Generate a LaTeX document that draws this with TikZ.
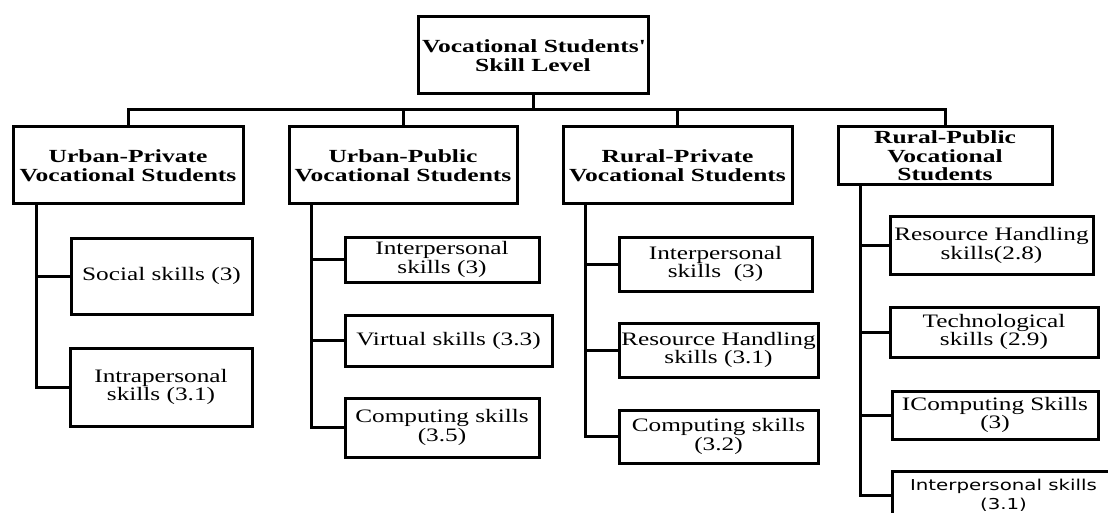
\documentclass[tikz,border=0pt]{standalone}
\usepackage{fontspec}
\setmainfont{Liberation Serif}[FakeStretch=1.33]
\newfontfamily\hdfont{Liberation Serif}[UprightFont={* Bold},FakeStretch=1.38]
\newfontfamily\sansfnt{DejaVu Sans}[FakeStretch=1.32]
\begin{document}
\begin{tikzpicture}[x=1pt,y=-1pt,
  box/.style={draw=black,line width=3pt,fill=white,rectangle,inner sep=0pt,outer sep=0pt,align=center,
    font=\fontsize{19}{18.5}\selectfont},
  hdr/.style={box,font=\hdfont\fontsize{18.5}{18.5}\selectfont},
  conn/.style={draw=black,line width=3pt}]
\useasboundingbox (0,0) rectangle (1108,513);
\fill[white] (0,0) rectangle (1108,513);
% top
\node[hdr,minimum width=230pt,minimum height=77pt] (top) at (533,55.5) {Vocational Students\textquotesingle\\Skill Level};
% level 2
\node[hdr,minimum width=230pt,minimum height=77pt] (up) at (128,165.5) {Urban-Private\\Vocational Students};
\node[hdr,minimum width=228pt,minimum height=77pt] (ub) at (403,165.5) {Urban-Public\\Vocational Students};
\node[hdr,minimum width=229pt,minimum height=77pt] (rp) at (677.5,165.5) {Rural-Private\\Vocational Students};
\node[hdr,minimum width=214pt,minimum height=58pt] (rb) at (945,156) {Rural-Public\\Vocational\\Students};
% leaves urban-private
\node[box,minimum width=181pt,minimum height=76pt] (soc) at (161.5,276) {Social skills (3)};
\node[box,minimum width=182pt,minimum height=78pt] (intra) at (161,387) {Intrapersonal\\skills (3.1)};
% leaves urban-public
\node[box,minimum width=194pt,minimum height=45pt] (ui) at (442,259.5) {Interpersonal\\skills (3)};
\node[box,minimum width=207pt,minimum height=51pt] (uv) at (448.5,340.5) {Virtual skills (3.3)};
\node[box,minimum width=194pt,minimum height=59pt] (uc) at (442,427.5) {Computing skills\\(3.5)};
% leaves rural-private
\node[box,minimum width=193pt,minimum height=54pt] (ri) at (715.5,264) {Interpersonal\\skills\ \ (3)};
\node[box,minimum width=199pt,minimum height=54pt] (rr) at (718.5,350) {Resource Handling\\skills (3.1)};
\node[box,minimum width=199pt,minimum height=53pt] (rc) at (718.5,436.5) {Computing skills\\(3.2)};
% leaves rural-public
\node[box,minimum width=203pt,minimum height=57pt] (pr) at (991.5,245.5) {Resource Handling\\skills(2.8)};
\node[box,minimum width=208pt,minimum height=50pt] (pt) at (994,332) {Technological\\skills (2.9)};
\node[box,minimum width=206pt,minimum height=48pt] (pc) at (995,415) {IComputing Skills\\(3)};
\node[box,minimum width=223pt,minimum height=48pt,font=\sansfnt\fontsize{15}{19}\selectfont] (pi) at (1003.5,495) {Interpersonal skills\\(3.1)};
% top connectors
\draw[conn] (top.south) -- ++(0,16) coordinate (bus);
\draw[conn] (up.north) |- (bus) -| (rb.north);
\draw[conn] (ub.north) -- (ub.north |- bus);
\draw[conn] (rp.north) -- (rp.north |- bus);
% stems
\coordinate (s1) at ([xshift=23pt]up.south west);
\draw[conn] (s1) |- (intra.west);
\draw[conn] (soc.west) -- (soc.west -| s1);
\coordinate (s2) at ([xshift=22pt]ub.south west);
\draw[conn] (s2) |- (uc.west);
\draw[conn] (ui.west) -- (ui.west -| s2);
\draw[conn] (uv.west) -- (uv.west -| s2);
\coordinate (s3) at ([xshift=22pt]rp.south west);
\draw[conn] (s3) |- (rc.west);
\draw[conn] (ri.west) -- (ri.west -| s3);
\draw[conn] (rr.west) -- (rr.west -| s3);
\coordinate (s4) at ([xshift=22pt]rb.south west);
\draw[conn] (s4) |- (pi.west);
\draw[conn] (pr.west) -- (pr.west -| s4);
\draw[conn] (pt.west) -- (pt.west -| s4);
\draw[conn] (pc.west) -- (pc.west -| s4);
\end{tikzpicture}
\end{document}
